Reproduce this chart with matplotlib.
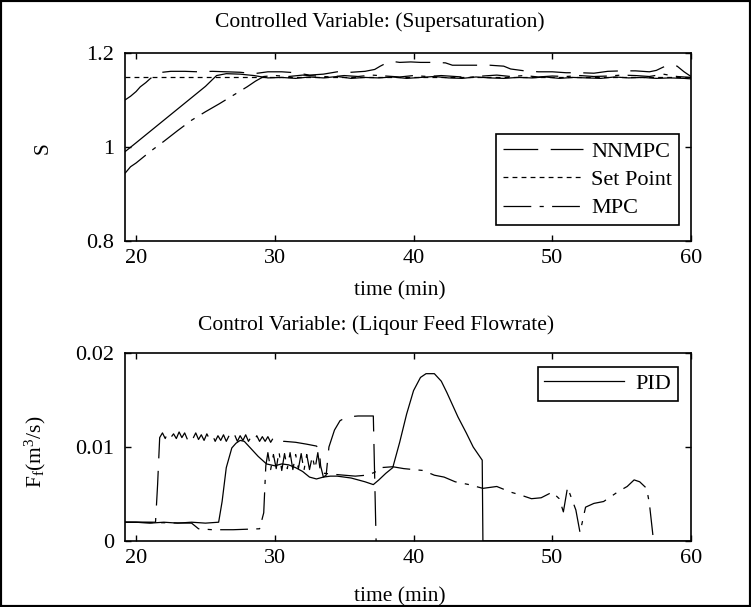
import matplotlib
matplotlib.use("Agg")
import matplotlib.pyplot as plt
from matplotlib.patches import Rectangle

plt.rcParams['font.family'] = 'serif'
plt.rcParams['font.serif'] = ['Liberation Serif', 'DejaVu Serif']
plt.rcParams['mathtext.fontset'] = 'custom'
plt.rcParams['mathtext.rm'] = 'Liberation Serif'
plt.rcParams['mathtext.it'] = 'Liberation Serif'
plt.rcParams['lines.scale_dashes'] = False

# ---- top: supersaturation ----
t_sp = [19.2, 60.0]
s_sp = [1.15, 1.15]

t_nn = [19.2, 19.6, 20.0, 20.3, 20.7, 21.0, 21.3, 21.6, 22.5, 23.5, 24.5, 25.5, 26.5,
        27.5, 28.5, 29.5, 30.5, 31.5, 32.5, 33.5, 34.5, 35.5, 36.5, 37.2, 37.6, 38.0,
        38.5, 39.0, 39.8, 40.5, 41.5, 42.3, 42.8, 43.5, 44.5, 45.5, 46.5, 47.0, 48.0,
        49.0, 50.0, 51.0, 52.0, 53.0, 54.0, 55.0, 56.0, 57.0, 57.5, 58.0, 58.5, 59.0,
        59.5, 60.0]
s_nn = [1.100, 1.108, 1.118, 1.128, 1.137, 1.145, 1.152, 1.158, 1.161, 1.161, 1.160,
        1.161, 1.160, 1.159, 1.156, 1.160, 1.160, 1.158, 1.153, 1.155, 1.160, 1.159,
        1.161, 1.165, 1.172, 1.178, 1.182, 1.180, 1.181, 1.180, 1.180, 1.179, 1.174,
        1.174, 1.174, 1.174, 1.172, 1.166, 1.162, 1.160, 1.160, 1.158, 1.158, 1.157,
        1.161, 1.162, 1.162, 1.160, 1.163, 1.170, 1.175, 1.172, 1.160, 1.150]

t_mpc = [19.2, 19.6, 20.0, 21.0, 22.0, 23.0, 24.0, 25.0, 26.0, 27.0, 28.0, 28.6,
         29.2, 30.0, 31.0, 32.0, 33.0, 34.0, 35.0, 36.0, 37.0, 38.0, 39.0, 40.0,
         41.0, 42.0, 43.0, 44.0, 45.0, 46.0, 47.0, 48.0, 49.0, 50.0, 51.0, 52.0,
         53.0, 54.0, 55.0, 56.0, 57.0, 58.0, 59.0, 60.0]
s_mpc = [0.944, 0.958, 0.966, 0.990, 1.012, 1.035, 1.057, 1.075, 1.092, 1.110,
         1.128, 1.140, 1.150, 1.152, 1.150, 1.153, 1.151, 1.149, 1.152, 1.150,
         1.153, 1.151, 1.149, 1.152, 1.150, 1.152, 1.150, 1.148, 1.151, 1.153,
         1.150, 1.152, 1.149, 1.151, 1.150, 1.152, 1.150, 1.151, 1.153, 1.152,
         1.150, 1.155, 1.150, 1.148]

t_pid = [19.2, 20.0, 21.0, 22.0, 23.0, 24.0, 25.0, 25.8, 26.5, 27.5, 28.5, 29.5,
         30.5, 31.5, 32.5, 33.5, 34.5, 35.5, 36.5, 37.5, 38.5, 39.5, 40.5, 41.5,
         42.5, 43.5, 44.5, 45.5, 46.5, 47.5, 48.5, 49.5, 50.5, 51.5, 52.5, 53.5,
         54.5, 55.5, 56.5, 57.5, 58.5, 59.5, 60.0]
s_pid = [0.990, 1.009, 1.033, 1.057, 1.081, 1.105, 1.129, 1.152, 1.156, 1.155,
         1.152, 1.147, 1.148, 1.146, 1.149, 1.147, 1.150, 1.146, 1.148, 1.147,
         1.149, 1.146, 1.148, 1.150, 1.147, 1.146, 1.149, 1.147, 1.146, 1.148,
         1.147, 1.149, 1.146, 1.148, 1.147, 1.146, 1.149, 1.147, 1.148, 1.146,
         1.147, 1.146, 1.145]

# ---- bottom: liquor feed flowrate ----
t_f_pid = [19.2, 20.0, 21.0, 22.0, 23.0, 24.0, 25.0, 25.95, 26.2, 26.5, 26.9, 27.2,
           27.5, 27.8, 28.3, 28.8, 29.4, 30.0, 30.5, 31.0, 31.5, 32.0, 32.5, 33.0,
           33.5, 34.0, 34.5, 35.0, 35.5, 36.0, 36.5, 37.1, 37.5, 38.0, 38.5, 39.0,
           39.5, 40.0, 40.5, 40.9, 41.5, 42.0, 42.4, 42.8, 43.2, 43.8, 44.3, 44.95,
           45.0, 60.0]
f_pid = [0.0020, 0.0020, 0.0019, 0.0020, 0.0019, 0.0020, 0.0019, 0.0020, 0.0042,
         0.0078, 0.0099, 0.0104, 0.0107, 0.0106, 0.0098, 0.0090, 0.0082, 0.0080,
         0.0082, 0.0081, 0.0078, 0.0074, 0.0068, 0.0066, 0.0068, 0.0069, 0.0069,
         0.0068, 0.0067, 0.0065, 0.0063, 0.0060, 0.0065, 0.0072, 0.0078, 0.0105,
         0.0135, 0.0160, 0.0174, 0.0178, 0.0178, 0.0170, 0.0158, 0.0145, 0.0132,
         0.0115, 0.0100, 0.0086, 0.0, 0.0]

t_f_nn = [19.2, 21.4, 21.55, 21.7, 21.9, 22.1, 22.3, 22.5, 22.7, 22.9, 23.1, 23.3,
          23.5, 23.7, 23.9, 24.1, 24.3, 24.5, 24.7, 24.9, 25.1, 25.3, 25.5, 25.7,
          25.9, 26.1, 26.3, 26.5, 26.7, 26.9, 27.1, 27.3, 27.5, 27.7, 27.9, 28.1,
          28.3, 28.5, 28.7, 28.9, 29.1, 29.3, 29.5, 29.7, 29.9, 30.2, 30.7, 31.5,
          32.3, 33.0, 33.2, 33.3, 33.5, 33.7, 33.9, 34.3, 34.7, 35.2, 36.0, 37.1,
          37.3]
f_nn = [0.0020, 0.0020, 0.0060, 0.0110, 0.0115, 0.0109, 0.0116, 0.0110, 0.0114,
        0.0109, 0.0116, 0.0110, 0.0115, 0.0108, 0.0114, 0.0109, 0.0115, 0.0108,
        0.0113, 0.0107, 0.0114, 0.0108, 0.0113, 0.0106, 0.0112, 0.0107, 0.0113,
        0.0106, 0.0112, 0.0107, 0.0113, 0.0106, 0.0112, 0.0107, 0.0113, 0.0106,
        0.0111, 0.0106, 0.0112, 0.0106, 0.0111, 0.0106, 0.0111, 0.0105, 0.0110,
        0.0106, 0.0106, 0.0105, 0.0103, 0.0101, 0.0098, 0.0080, 0.0068, 0.0070,
        0.0100, 0.0118, 0.0128, 0.0132, 0.0133, 0.0133, 0.0]

t_f_mpc = [19.2, 24.0, 24.5, 25.5, 27.0, 28.9, 29.2, 29.35, 29.5, 29.7, 29.9, 30.1,
           30.3, 30.5, 30.7, 30.9, 31.1, 31.3, 31.5, 31.7, 31.9, 32.1, 32.3, 32.5,
           32.7, 32.9, 33.1, 33.3, 33.6, 34.2, 35.0, 35.8, 36.6, 37.2, 37.6, 38.5,
           39.3, 40.0, 40.7, 41.5, 42.2, 43.0, 44.0, 45.0, 46.0, 47.0, 47.7, 48.5,
           49.2, 50.0, 50.5, 50.8, 51.1, 51.4, 51.7, 52.0, 52.4, 53.0, 53.7, 54.3,
           54.8, 55.4, 55.9, 56.3, 56.8, 57.0, 57.3]
f_mpc = [0.0020, 0.0019, 0.0013, 0.0012, 0.0012, 0.0013, 0.0030, 0.0080, 0.0094,
         0.0076, 0.0092, 0.0077, 0.0095, 0.0075, 0.0093, 0.0077, 0.0094, 0.0076,
         0.0092, 0.0077, 0.0093, 0.0075, 0.0092, 0.0076, 0.0090, 0.0077, 0.0094,
         0.0072, 0.0072, 0.0071, 0.0070, 0.0069, 0.0070, 0.0073, 0.0078, 0.0079,
         0.0077, 0.0076, 0.0075, 0.0070, 0.0068, 0.0063, 0.0060, 0.0056, 0.0058,
         0.0052, 0.0049, 0.0045, 0.0046, 0.0052, 0.0045, 0.0031, 0.0057, 0.0045,
         0.0033, 0.0009, 0.0036, 0.0040, 0.0042, 0.0048, 0.0053, 0.0058, 0.0065,
         0.0063, 0.0056, 0.0040, 0.0]

x_ticks = [20, 30, 40, 50, 60]
x_labels = ['20', '30', '40', '50', '60']
s_ticks = [0.8, 1.0, 1.2]
s_labels = ['0.8', '1', '1.2']
f_ticks = [0.0, 0.01, 0.02]
f_labels = ['0', '0.01', '0.02']

LONG = (25, 9)
SHORT = (3.5, 3)
DASHDOT = (20, 6, 3, 6)
LW = 0.9

fig = plt.figure(figsize=(7.51, 6.07), dpi=100)
ax1 = fig.add_axes([125/751, 1 - 241/607, 566/751, 188/607])
ax2 = fig.add_axes([125/751, 1 - 541/607, 566/751, 188/607])

ax1.plot(t_nn, s_nn, color='k', lw=LW, dashes=LONG, label='NNMPC')
ax1.plot(t_sp, s_sp, color='k', lw=LW, dashes=SHORT, label='Set Point')
ax1.plot(t_mpc, s_mpc, color='k', lw=LW, dashes=DASHDOT, label='MPC')
ax1.plot(t_pid, s_pid, color='k', lw=LW)
ax1.set_ylim(0.8, 1.2)
ax1.set_yticks(s_ticks)
ax1.set_yticklabels(s_labels)

ax2.plot(t_f_pid, f_pid, color='k', lw=LW, label='PID')
ax2.plot(t_f_nn, f_nn, color='k', lw=LW, dashes=LONG)
ax2.plot(t_f_mpc, f_mpc, color='k', lw=LW, dashes=DASHDOT)
ax2.set_ylim(0, 0.02)
ax2.set_yticks(f_ticks)
ax2.set_yticklabels(f_labels)

for ax in (ax1, ax2):
    ax.set_xlim(19.2, 60)
    ax.set_xticks(x_ticks)
    ax.set_xticklabels(x_labels)
    ax.tick_params(direction='in', top=True, right=True, length=4, width=1,
                   labelsize=16)
    ax.tick_params(axis='x', pad=6)
    ax.tick_params(axis='y', pad=8)
    for sp in ax.spines.values():
        sp.set_linewidth(1.2)

leg1 = ax1.legend(loc='lower right', bbox_to_anchor=(0.979, 0.085), borderaxespad=0,
                  fontsize=16, handlelength=3.6, handletextpad=0.4, labelspacing=0.35,
                  fancybox=False, edgecolor='k', framealpha=1, borderpad=0.3)
leg1.get_frame().set_linewidth(1.2)
leg2 = ax2.legend(loc='upper right', bbox_to_anchor=(0.977, 0.926), borderaxespad=0,
                  fontsize=16, handlelength=3.6, handletextpad=0.5,
                  fancybox=False, edgecolor='k', framealpha=1, borderpad=0.3)
leg2.get_frame().set_linewidth(1.2)

fig.text(380/751, 1 - 22/607, 'Controlled Variable: (Supersaturation)', ha='center',
         va='center', fontsize=15.5)
fig.text(400/751, 1 - 291/607, 'time (min)', ha='center', va='center', fontsize=15.5)
fig.text(376/751, 1 - 325/607, 'Control Variable: (Liqour Feed Flowrate)', ha='center',
         va='center', fontsize=15.5)
fig.text(400/751, 1 - 597/607, 'time (min)', ha='center', va='center', fontsize=15.5)
fig.text(43/751, 1 - 148/607, 'S', ha='center', va='center', rotation=90, fontsize=15.5)
fig.text(35/751, 1 - 452/607, r'F$_\mathrm{f}$(m$^\mathrm{3}$/s)', ha='center',
         va='center', rotation=90, fontsize=15.5)

fig.patches.append(Rectangle((0, 0), 1, 1, transform=fig.transFigure, fill=False,
                             edgecolor='k', linewidth=3, clip_on=False))

fig.savefig('out.png', dpi=100)
